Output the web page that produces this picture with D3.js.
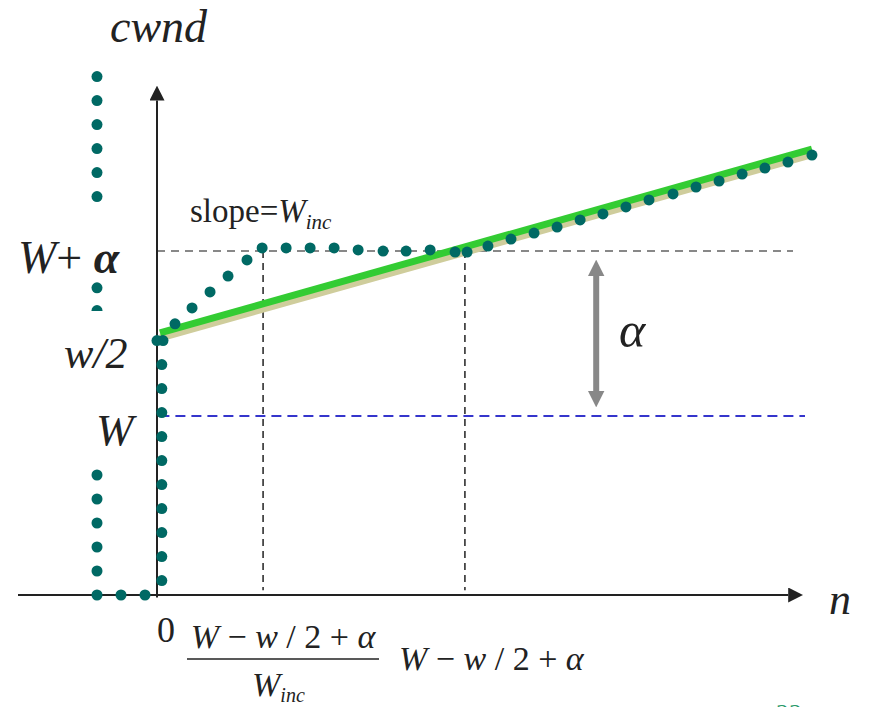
<!DOCTYPE html>
<html>
<head>
<meta charset="utf-8">
<script src="https://cdn.jsdelivr.net/npm/d3@7"></script>
<style>
  body { margin: 0; background: #fff; }
  svg { display: block; }
</style>
</head>
<body>
<div id="chart"></div>
<script>
// chart values, in window / time units (1 unit = one dot step)
const leftUpper = [[-2.5,21.6],[-2.5,20.6],[-2.5,19.6],[-2.5,18.6],[-2.5,17.6],[-2.5,16.6],[-2.5,12.8],[-2.5,11.85]]
const leftLower = [[-2.5,5],[-2.5,4],[-2.5,3],[-2.5,2],[-2.5,1],[-2.5,0],[-1.5,0],[-0.5,0]]
const dropColumn = [[0,10.6],[0.25,10.6],[0.2,9.6],[0.2,8.6],[0.2,7.6],[0.2,6.6],[0.2,5.6],[0.2,4.6],[0.2,3.6],[0.2,2.6],[0.2,1.6],[0.2,0.6]]
const growth = [[0.75,11.3],[1.46,11.96],[2.21,12.63],[2.96,13.29],[3.75,13.96],[4.38,14.46],[5.38,14.46],[6.38,14.46],[7.38,14.46],[8.38,14.38],[9.42,14.33],[10.38,14.33],[11.38,14.38],[12.42,14.29],[12.92,14.29],
  [13.79,14.54],[14.75,14.83],[15.71,15.08],[16.67,15.33],[17.63,15.63],[18.58,15.88],[19.54,16.17],[20.5,16.46],[21.5,16.71],[22.46,17.0],[23.42,17.25],[24.38,17.54],[25.33,17.79],[26.29,18.04],[27.29,18.33]]

const slopeGreen = [[0.125,10.92],[27.29,18.58]]
const slopeKhaki = [[0.125,10.7],[27.29,18.35]]

const levelWalpha = 14.33   // W + alpha
const levelW = 7.46         // W
const markN = [4.42, 12.83] // (W-w/2+a)/Winc , W-w/2+a
const arrowN = 18.3         // where the alpha arrow stands

const width = 869, height = 707

const x = d3.scaleLinear().domain([0, 27]).range([157, 805])
const y = d3.scaleLinear().domain([0, 22]).range([595, 67])

const svg = d3.select('#chart').append('svg')
  .attr('width', width)
  .attr('height', height)

const defs = svg.append('defs')

defs.append('marker')
  .attr('id', 'axhead')
  .attr('viewBox', '0 0 10 10')
  .attr('refX', 0).attr('refY', 5)
  .attr('markerWidth', 7.5).attr('markerHeight', 7.5)
  .attr('markerUnits', 'strokeWidth')
  .attr('orient', 'auto')
  .append('path').attr('d', 'M0,0 L10,5 L0,10 Z').attr('fill', '#222')

// dashed guides
svg.append('line')
  .attr('x1', x(0)).attr('x2', x(26.5))
  .attr('y1', y(levelWalpha)).attr('y2', y(levelWalpha))
  .attr('stroke', '#888').attr('stroke-width', 2).attr('stroke-dasharray', '8,6')

svg.append('line')
  .attr('x1', x(0.1)).attr('x2', x(27))
  .attr('y1', y(levelW)).attr('y2', y(levelW))
  .attr('stroke', '#3535cc').attr('stroke-width', 2).attr('stroke-dasharray', '10,6')

svg.selectAll('.vguide')
  .data(markN)
  .enter()
  .append('line')
  .attr('class', 'vguide')
  .attr('x1', d => x(d)).attr('x2', d => x(d))
  .attr('y1', y(levelWalpha)).attr('y2', y(0.2))
  .attr('stroke', '#222').attr('stroke-width', 1.5).attr('stroke-dasharray', '7,5')

// axes
svg.append('line')
  .attr('x1', 18).attr('x2', x(26.3))
  .attr('y1', y(0)).attr('y2', y(0))
  .attr('stroke', '#222').attr('stroke-width', 2)
  .attr('marker-end', 'url(#axhead)')

svg.append('line')
  .attr('x1', x(0)).attr('x2', x(0))
  .attr('y1', y(-0.1)).attr('y2', y(20.6))
  .attr('stroke', '#222').attr('stroke-width', 2)
  .attr('marker-end', 'url(#axhead)')

// linear increase lines
const line = d3.line().x(d => x(d[0])).y(d => y(d[1]))

svg.append('path').attr('d', line(slopeKhaki))
  .attr('stroke', '#cfcd9c').attr('stroke-width', 7).attr('fill', 'none')
svg.append('path').attr('d', line(slopeGreen))
  .attr('stroke', '#33cc33').attr('stroke-width', 7).attr('fill', 'none')

// dots
const allDots = [].concat(leftUpper, leftLower, dropColumn, growth)
svg.append('g')
  .selectAll('circle')
  .data(allDots)
  .enter()
  .append('circle')
  .attr('cx', d => x(d[0]))
  .attr('cy', d => y(d[1]))
  .attr('r', 5.5)
  .attr('fill', '#006964')

// label box hiding part of the left column
svg.append('rect')
  .attr('x', 60).attr('y', 311).attr('width', 80).attr('height', 155)
  .attr('fill', '#fff')

// alpha arrow
const ax = x(arrowN)
defs.append('marker')
  .attr('id', 'grayhead')
  .attr('viewBox', '0 0 10 10')
  .attr('refX', 2).attr('refY', 5)
  .attr('markerWidth', 2.8).attr('markerHeight', 2.8)
  .attr('markerUnits', 'strokeWidth')
  .attr('orient', 'auto-start-reverse')
  .append('path').attr('d', 'M0,0 L10,5 L0,10 Z').attr('fill', '#888')

svg.append('line')
  .attr('x1', ax).attr('x2', ax)
  .attr('y1', y(levelW) - 22).attr('y2', y(levelWalpha) + 22)
  .attr('stroke', '#888').attr('stroke-width', 6)
  .attr('marker-start', 'url(#grayhead)')
  .attr('marker-end', 'url(#grayhead)')

// texts
const txt = (px, py, size) => svg.append('text')
  .attr('x', px).attr('y', py).attr('font-size', size)
  .attr('font-family', 'Liberation Serif').attr('fill', '#222')

txt(110, 42, 46).attr('font-style', 'italic').text('cwnd')
txt(829, 614, 44).attr('font-style', 'italic').text('n')
txt(619, 347, 50).attr('font-style', 'italic').text('α')

const wa = txt(18, 273, 46)
wa.append('tspan').attr('font-style', 'italic').text('W')
wa.append('tspan').text('+ ')
wa.append('tspan').attr('font-style', 'italic').attr('font-weight', 'bold').text('α')

txt(64, 368, 44).attr('font-style', 'italic').text('w/2')
txt(96, 445, 45).attr('font-style', 'italic').text('W')

const sl = txt(190, 222, 33)
sl.append('tspan').text('slope=')
sl.append('tspan').attr('font-style', 'italic').text('W')
sl.append('tspan').attr('font-style', 'italic').attr('font-size', 21).attr('dy', 7).text('inc')

txt(157, 642, 36).text('0')

const expr = (sel) => {
  sel.append('tspan').attr('font-style', 'italic').text('W')
  sel.append('tspan').text(' − ')
  sel.append('tspan').attr('font-style', 'italic').text('w')
  sel.append('tspan').text(' / 2 + ')
  sel.append('tspan').attr('font-style', 'italic').text('α')
}

expr(txt(283, 648, 34).attr('text-anchor', 'middle'))
svg.append('line').attr('x1', 187).attr('x2', 379).attr('y1', 659).attr('y2', 659)
  .attr('stroke', '#222').attr('stroke-width', 1.5)
const den = txt(252, 696, 34)
den.append('tspan').attr('font-style', 'italic').text('W')
den.append('tspan').attr('font-style', 'italic').attr('font-size', 20).attr('dy', 6).text('inc')

expr(txt(399, 670, 34))

// slide number peeking at the bottom edge
txt(776, 722, 26).attr('fill', '#2a9a6a').text('22')
</script>
</body>
</html>
